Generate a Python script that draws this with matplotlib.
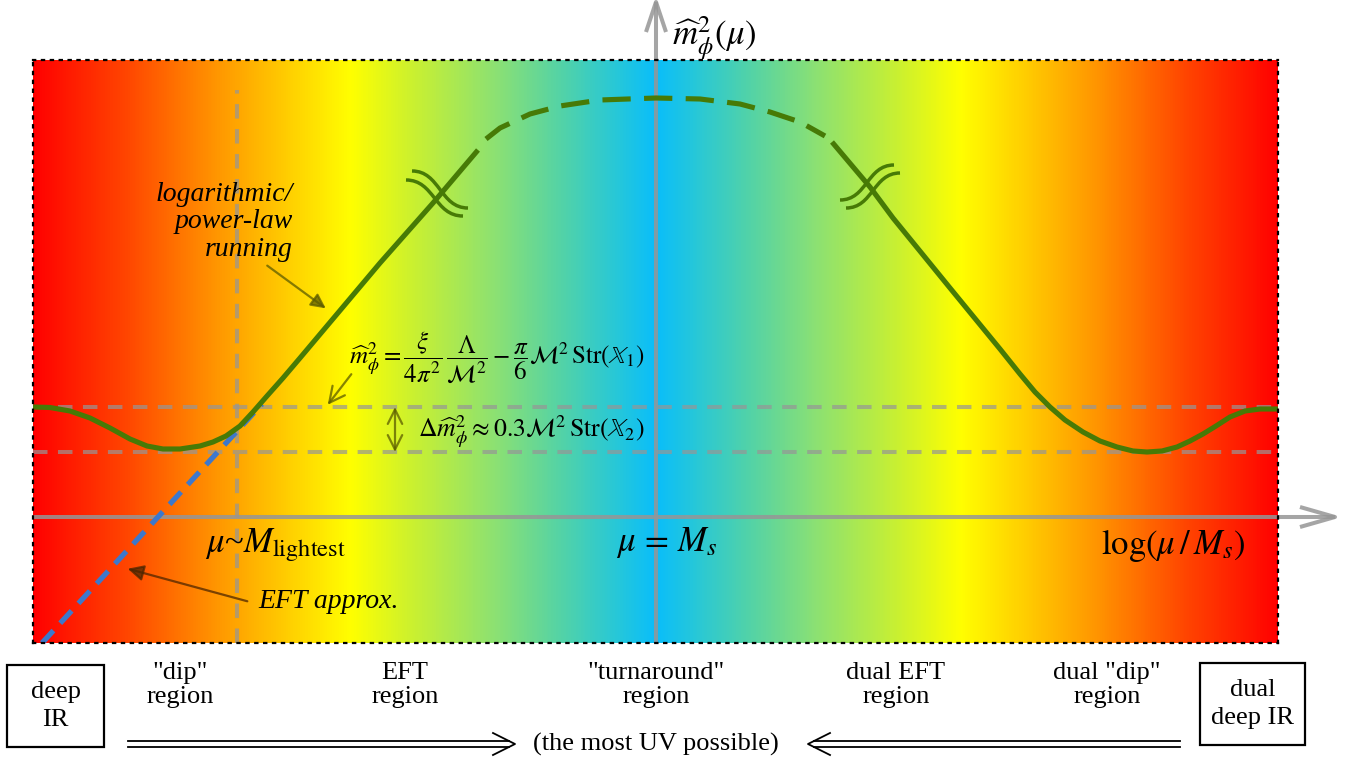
import matplotlib
matplotlib.use('Agg')
import matplotlib.pyplot as plt
import numpy as np
from matplotlib.colors import LinearSegmentedColormap
from matplotlib.patches import Rectangle, PathPatch
from matplotlib.path import Path

plt.rcParams['font.family'] = 'serif'
plt.rcParams['font.serif'] = ['Liberation Serif', 'DejaVu Serif']
plt.rcParams['mathtext.fontset'] = 'stix'

# ---------- data (x = log(mu/Ms), y = m_phi^2, schematic units) ----------
left_x = [-6.23, -6.06, -5.86, -5.66, -5.46, -5.26, -5.09, -4.93, -4.76, -4.56,
          -4.43, -4.30, -4.16, -4.03, -3.89, -3.73, -3.56, -2.76, -2.23, -1.78]
left_y = [1.10, 1.095, 1.06, 0.99, 0.89, 0.78, 0.71, 0.68, 0.68, 0.71,
          0.75, 0.81, 0.91, 1.05, 1.21, 1.39, 1.59, 2.54, 3.14, 3.67]

top_x = [-1.70, -1.56, -1.26, -0.96, -0.56, 0.0, 0.44, 0.84, 1.14, 1.44, 1.69]
top_y = [3.78, 3.89, 4.03, 4.11, 4.17, 4.19, 4.18, 4.13, 4.05, 3.95, 3.81]

right_x = [1.76, 2.14, 2.37, 2.94, 3.44, 3.64, 3.79, 3.94, 4.09, 4.27, 4.44,
           4.61, 4.77, 4.91, 5.06, 5.21, 5.34, 5.47, 5.60, 5.74, 5.89, 6.04, 6.22]
right_y = [3.75, 3.30, 2.99, 2.29, 1.68, 1.43, 1.25, 1.10, 0.97, 0.85, 0.76,
           0.70, 0.66, 0.65, 0.66, 0.70, 0.76, 0.83, 0.91, 1.00, 1.06, 1.08, 1.08]

eft_x = [-6.14, -3.94]
eft_y = [-1.26, 1.13]

band_levels = [1.10, 0.65]
mu_lightest = -4.19

# background gradient stops: distance from mu = Ms, colour
grad_d = [0.0, 0.40, 0.90, 1.60, 2.40, 3.05, 3.70, 4.40, 5.30, 6.24]
grad_c = ['#0abefa', '#28c8d7', '#50d2aa', '#8ce173', '#c8f032', '#ffff00',
          '#ffcd00', '#ff9600', '#ff4600', '#ff0000']

region_x = [-4.76, -2.51, 0.0, 2.40, 4.51]
region_labels = ['"dip"\nregion', 'EFT\nregion', '"turnaround"\nregion',
                 'dual EFT\nregion', 'dual "dip"\nregion']

xmin, xmax = -6.23, 6.22
ymin, ymax = -1.26, 4.57

green = '#477a06'
gray = '#969696'
olive = '#5c5c00'

fig = plt.figure(figsize=(13.64, 7.62), dpi=100)
ax = fig.add_axes([33 / 1364, 119 / 762, 1245 / 1364, 583 / 762])
ax.set_xlim(xmin, xmax)
ax.set_ylim(ymin, ymax)
ax.set_xticks([])
ax.set_yticks([])
for s in ax.spines.values():
    s.set_linestyle((0, (1, 3)))
    s.set_linewidth(1.6)
    s.set_color('black')
    s.set_zorder(6)

# gradient
cmap = LinearSegmentedColormap.from_list(
    'bg', list(zip(np.array(grad_d) / grad_d[-1], grad_c)))
xs = np.linspace(xmin, xmax, 1500)
ax.imshow((np.abs(xs) / grad_d[-1])[None, :], cmap=cmap, vmin=0, vmax=1,
          extent=[xmin, xmax, ymin, ymax], aspect='auto', zorder=0)

# dashed guide lines
for lv in band_levels:
    ax.plot([xmin, xmax], [lv, lv], color=gray, alpha=0.7, lw=2.9,
            dashes=(3.6, 2.6), zorder=1)
ax.plot([mu_lightest, mu_lightest], [ymin, 4.27], color=gray, alpha=0.7,
        lw=2.9, dashes=(3.6, 2.6), zorder=1)

# coordinate axes with open arrow heads
ax_kw = dict(color=gray, alpha=0.85, lw=2.9, clip_on=False, zorder=2,
             solid_capstyle='butt')
ax.plot([xmin, 6.79], [0, 0], **ax_kw)
ax.plot([6.44, 6.79, 6.44], [0.10, 0, -0.10], **ax_kw)
ax.plot([0, 0], [ymin, 5.15], **ax_kw)
ax.plot([-0.10, 0, 0.10], [4.85, 5.15, 4.85], **ax_kw)

# EFT approximation
ax.plot(eft_x, eft_y, color='#3d78cc', lw=3.8, dashes=(3.2, 1.9), zorder=3)

# running curve
ax.plot(left_x, left_y, color=green, lw=3.7, zorder=4,
        solid_capstyle='butt', solid_joinstyle='round')
ax.plot(top_x, top_y, color=green, lw=3.7, dashes=(5.5, 2.6), zorder=4)
ax.plot(right_x, right_y, color=green, lw=3.7, zorder=4,
        solid_capstyle='butt', solid_joinstyle='round')

# break symbols
def squiggle(x0, y0, x1, y1):
    xm = (x0 + x1) / 2
    p = Path([(x0, y0), (xm, y0), (xm, y1), (x1, y1)],
             [Path.MOVETO, Path.CURVE4, Path.CURVE4, Path.CURVE4])
    ax.add_patch(PathPatch(p, fill=False, edgecolor=green, lw=2.5, zorder=4))

squiggle(-2.44, 3.46, -1.88, 3.09)
squiggle(-2.50, 3.37, -1.93, 3.01)
squiggle(2.38, 3.52, 1.84, 3.17)
squiggle(2.44, 3.44, 1.90, 3.09)

# annotations inside the plot
ax.text(-3.63, 2.95, 'logarithmic/\npower-law\nrunning', style='italic',
        fontsize=20, ha='right', va='center', linespacing=1.15, zorder=5)
ax.annotate('', xy=(-3.28, 2.07), xytext=(-3.91, 2.53),
            arrowprops=dict(arrowstyle='-|>', color=olive, alpha=0.75,
                            lw=1.6, mutation_scale=22), zorder=5)

ax.text(-1.59, 1.60,
        r'$\widehat{m}_{\phi}^{2} = \dfrac{\xi}{4\pi^2}\,\dfrac{\Lambda}{\mathcal{M}^2}'
        r' - \dfrac{\pi}{6}\mathcal{M}^2\,\mathrm{Str}(\mathbb{X}_1)$',
        fontsize=18, ha='center', va='center', zorder=5)
ax.annotate('', xy=(-3.30, 1.10), xytext=(-3.03, 1.45),
            arrowprops=dict(arrowstyle='->', color=olive, alpha=0.75,
                            lw=1.6, mutation_scale=28), zorder=5)
ax.annotate('', xy=(-2.61, band_levels[1]), xytext=(-2.61, band_levels[0]),
            arrowprops=dict(arrowstyle='<->', color=olive, alpha=0.75,
                            lw=1.6, mutation_scale=26, shrinkA=0, shrinkB=0),
            zorder=5)
ax.text(-2.38, 0.85,
        r'$\Delta\widehat{m}_{\phi}^{2} \approx 0.3\mathcal{M}^2\,\mathrm{Str}(\mathbb{X}_2)$',
        fontsize=18.5, ha='left', va='center', zorder=5)

ax.text(-3.81, -0.28, r'$\mu$~$M_{\mathrm{lightest}}$', fontsize=25,
        ha='center', va='center', zorder=5)
ax.text(0.11, -0.26, r'$\mu\,=\,M_s$', fontsize=25, ha='center',
        va='center', zorder=5)
ax.text(5.17, -0.29, r'$\log(\mu\,/\,M_s)$', fontsize=25, ha='center',
        va='center', zorder=5)
ax.text(0.16, 4.79, r'$\widehat{m}_{\phi}^{2}(\mu)$', fontsize=25,
        ha='left', va='center', clip_on=False, zorder=5)

ax.text(-3.98, -0.85, 'EFT approx.', style='italic', fontsize=20,
        ha='left', va='center', zorder=5)
ax.annotate('', xy=(-5.31, -0.51), xytext=(-4.06, -0.85),
            arrowprops=dict(arrowstyle='-|>', color='#4d2600', alpha=0.75,
                            lw=1.6, mutation_scale=24), zorder=5)

# ---------- labels below the plot ----------
for rx, lab in zip(region_x, region_labels):
    ax.text(rx, -1.68, lab, fontsize=19, ha='center', va='center',
            linespacing=1.12, clip_on=False)

ax.add_patch(Rectangle((-6.49, -2.30), 0.97, 0.82, fill=False, lw=1.6,
                       edgecolor='black', clip_on=False))
ax.text(-6.005, -1.89, 'deep\nIR', fontsize=19, ha='center', va='center',
        linespacing=1.4, clip_on=False)
ax.add_patch(Rectangle((5.44, -2.28), 1.05, 0.82, fill=False, lw=1.6,
                       edgecolor='black', clip_on=False))
ax.text(5.965, -1.87, 'dual\ndeep IR', fontsize=19, ha='center',
        va='center', linespacing=1.4, clip_on=False)

ax.text(0, -2.27, '(the most UV possible)', fontsize=19, ha='center',
        va='center', clip_on=False)


def double_arrow(x_start, x_tip, y):
    sgn = 1 if x_tip > x_start else -1
    kw = dict(color='black', lw=1.3, clip_on=False)
    for off in (0.03, -0.03):
        ax.plot([x_start, x_tip - sgn * 0.06], [y + off, y + off], **kw)
    ax.plot([x_tip - sgn * 0.22, x_tip, x_tip - sgn * 0.22],
            [y + 0.11, y, y - 0.11], **kw)


double_arrow(-5.28, -1.41, -2.27)
double_arrow(5.24, 1.52, -2.27)

fig.savefig('out.png', dpi=100)
